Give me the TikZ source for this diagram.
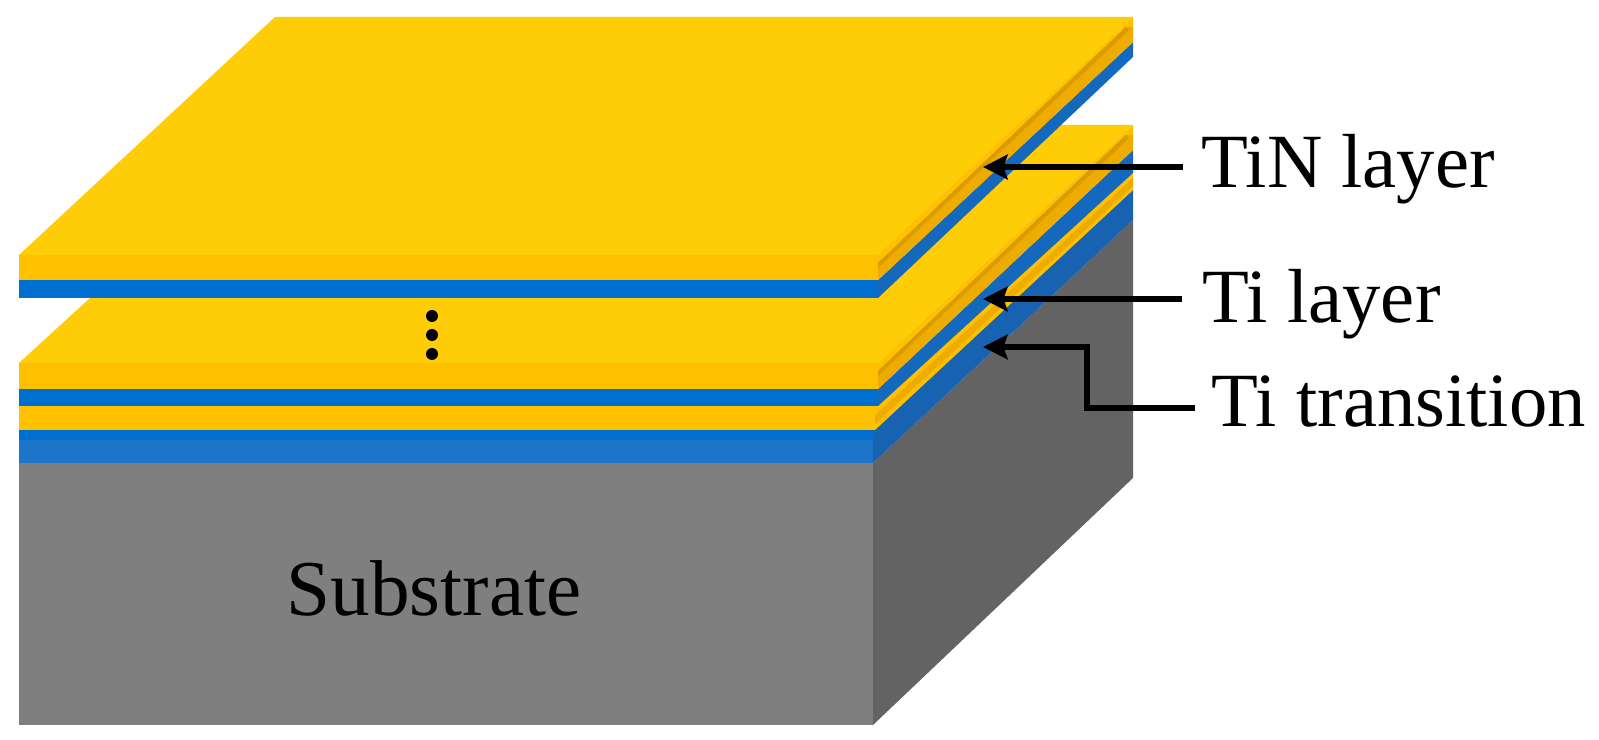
\documentclass[tikz,border=0pt]{standalone}
\usepackage{xcolor}
\usepackage{fontspec}
\setmainfont{Liberation Serif}
\usetikzlibrary{arrows.meta,positioning}
\definecolor{goldtop}{RGB}{255,204,8}
\definecolor{goldfront}{RGB}{255,192,0}
\definecolor{goldside}{RGB}{238,172,0}
\definecolor{golddark}{RGB}{216,156,0}
\definecolor{bluefront}{RGB}{0,112,208}
\definecolor{blueside}{RGB}{20,104,190}
\definecolor{transfront}{RGB}{28,117,200}
\definecolor{transside}{RGB}{24,98,178}
\definecolor{grayfront}{RGB}{127,127,127}
\definecolor{grayside}{RGB}{99,99,99}

\begin{document}
\begin{tikzpicture}[
    x=0.01cm, y=-0.01cm,
    label/.style={font=\fontsize{21.8}{26}\selectfont, text=black, anchor=base west, inner xsep=0.18cm},
    pointer/.style={draw=black, line width=1.7pt, -{Stealth[length=7pt,width=7pt,inset=1.2pt]}}
]
    \useasboundingbox (0,0) rectangle (1599,740);

    % substrate
    \fill[grayfront] (19,463) rectangle (873,725);
    \fill[grayside] (873,463) -- (1133,220) -- (1133,478) -- (873,725) -- cycle;

    % transition layer
    \fill[transfront] (19,430) rectangle (873,463);
    \fill[bluefront] (19,430) rectangle (873,440);
    \fill[transside] (873,430) -- (1133,190) -- (1133,220) -- (873,463) -- cycle;

    % lower Ti layer
    \fill[goldfront] (19,406) rectangle (875,430);
    \fill[goldfront] (875,406) -- (1133,173) -- (1133,190) -- (875,430) -- cycle;
    \fill[goldside] (875,415) -- (1133,178) -- (1133,186) -- (875,424) -- cycle;

    % middle plate
    \fill[bluefront] (19,389) rectangle (878,406);
    \fill[blueside] (878,389) -- (1133,150) -- (1133,173) -- (878,406) -- cycle;
    \fill[goldtop] (19,363) -- (279,125) -- (1133,125) -- (878,363) -- cycle;
    \fill[goldfront] (19,363) rectangle (878,389);
    \fill[goldfront] (878,363) -- (1133,125) -- (1133,150) -- (878,389) -- cycle;
    \fill[goldside] (878,371) -- (1126,135) -- (1133,135) -- (1133,150) -- (878,389) -- cycle;
    \fill[golddark] (878,371) -- (1126,135) -- (1129,138) -- (878,376) -- cycle;

    % top plate
    \fill[bluefront] (19,280) rectangle (878,298);
    \fill[blueside] (878,280) -- (1133,42) -- (1133,57) -- (878,298) -- cycle;
    \fill[goldtop] (19,255) -- (275,17) -- (1133,17) -- (878,255) -- cycle;
    \fill[goldfront] (19,255) rectangle (878,280);
    \fill[goldfront] (878,255) -- (1133,17) -- (1133,42) -- (878,280) -- cycle;
    \fill[goldside] (878,263) -- (1126,27) -- (1133,27) -- (1133,42) -- (878,280) -- cycle;
    \fill[golddark] (878,263) -- (1126,27) -- (1129,30) -- (878,268) -- cycle;

    % dots
    \foreach \y in {316,335,354}
        \fill[black] (432,\y) circle (6);

    \node[font=\fontsize{22.5}{26}\selectfont, text=black, anchor=base] (substrate) at (434,616) {Substrate};

    \node[label] (tin) at (1183,188) {TiN layer};
    \node[label, inner xsep=0.20cm] (ti) at (1182,323) {Ti layer};
    \node[label, inner xsep=0.16cm] (trans) at (1195,427) {Ti transition};

    \coordinate (tintip) at (983,167);
    \coordinate (titip) at (983,299);
    \coordinate (transtip) at (983,347);
    \coordinate (transbend) at (1087,408);

    \draw[pointer] (tin.west |- tintip) -- (tintip);
    \draw[pointer] (ti.west |- titip) -- (titip);
    \draw[pointer] (trans.west |- transbend) -- (transbend) -- (transbend |- transtip) -- (transtip);
\end{tikzpicture}
\end{document}
